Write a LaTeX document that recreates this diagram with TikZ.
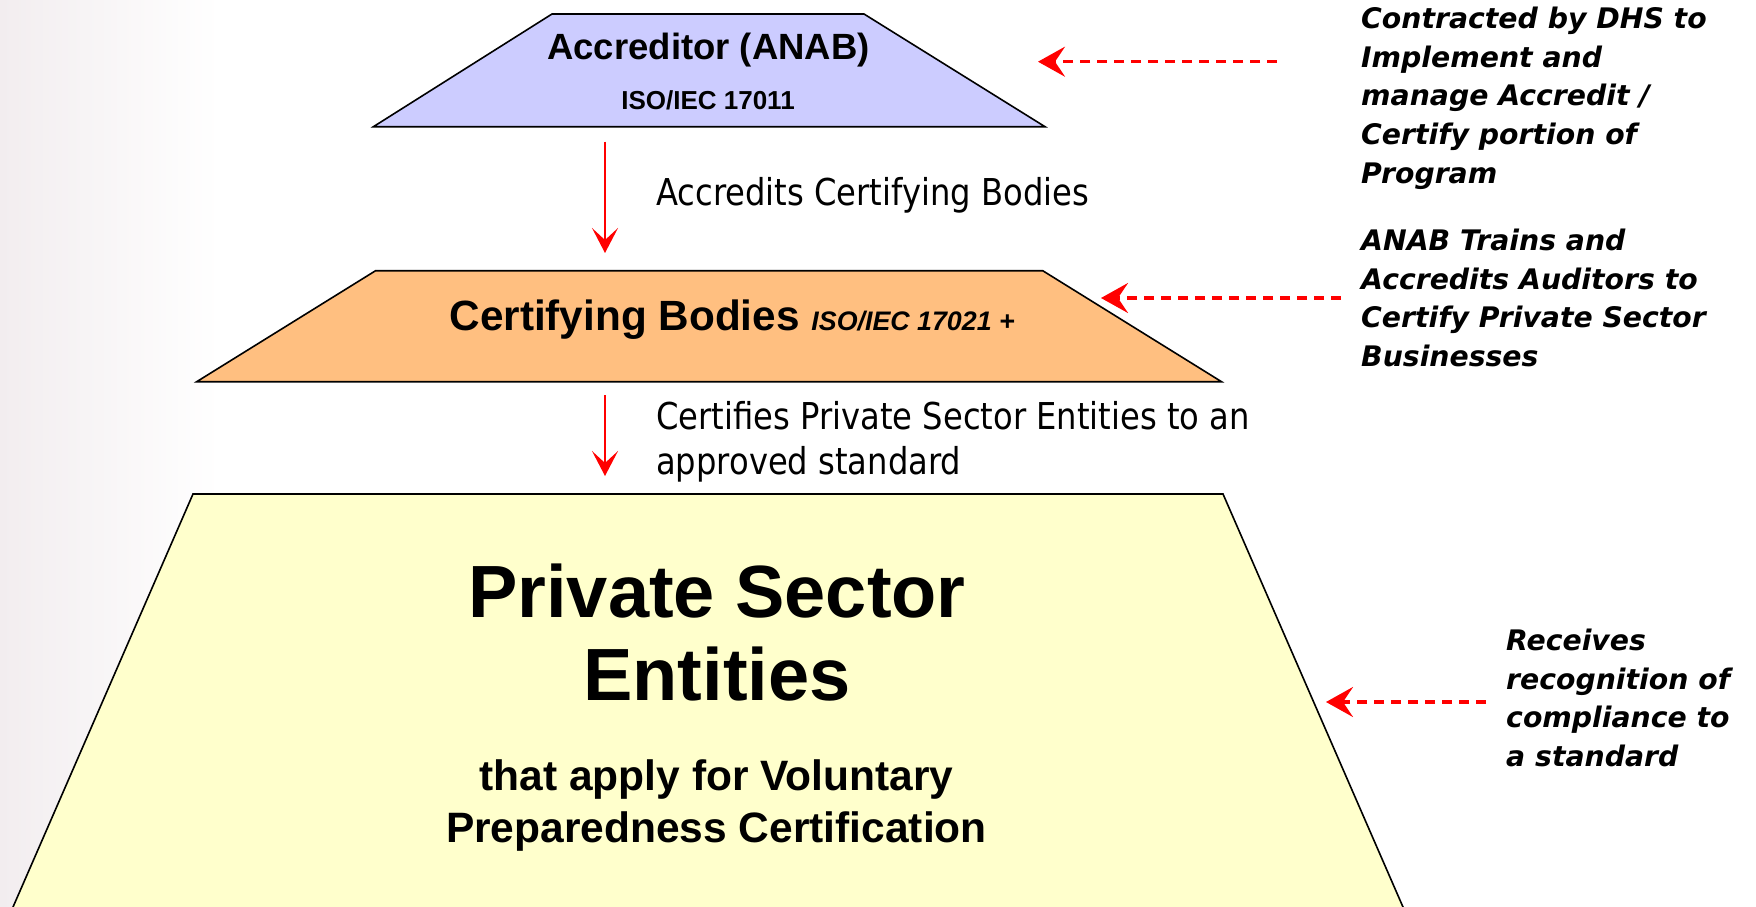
\documentclass[tikz,border=0pt]{standalone}
\usepackage{fontspec}
\setmainfont{Liberation Sans}
\newfontfamily\labfont[FakeStretch=0.87]{DejaVu Sans}
\newfontfamily\annfont{DejaVu Sans}
\usetikzlibrary{arrows.meta}
\definecolor{tierA}{RGB}{204,204,255}
\definecolor{tierB}{RGB}{255,191,128}
\definecolor{tierC}{RGB}{255,255,204}
\definecolor{wmark}{RGB}{242,237,239}
\begin{document}
\begin{tikzpicture}[x=1pt,y=-1pt,
  tier/.style={draw=black,line width=1.6pt,line join=miter},
  flow/.style={draw=red,line width=2pt,-{Stealth[length=25pt,width=26pt,inset=12pt]}},
  note/.style={draw=red,line width=3.2pt,dash pattern=on 10pt off 7pt,-{Stealth[length=27pt,width=30pt,inset=10pt]}},
  tt/.style={inner sep=0pt,outer sep=0pt},
  lbl/.style={inner sep=0pt,anchor=north west,align=left,font=\labfont\fontsize{37}{45}\selectfont},
  ann/.style={inner sep=0pt,anchor=north west,align=left,font=\annfont\bfseries\itshape\fontsize{28.3}{38.6}\selectfont}]
\useasboundingbox (0,0) rectangle (1756,907);
\clip (0,0) rectangle (1756,907);
\fill[white] (0,0) rectangle (1756,907);
\shade[left color=wmark,right color=white] (0,0) rectangle (220,907);
% tiers
\path[tier,fill=tierA] (373.4,126.7) -- (552,14) -- (864,14) -- (1045,126.7) -- cycle;
\path[tier,fill=tierB] (196.7,381.7) -- (375.6,270.7) -- (1042.7,270.7) -- (1221.5,381.7) -- cycle;
\path[tier,fill=tierC] (3,930) -- (193,494) -- (1223,494) -- (1413,930) -- cycle;
% tier texts
\node[tt,anchor=base,font=\bfseries\fontsize{36.5}{42}\selectfont] (acc) at (708.5,59.3) {Accreditor (ANAB)};
\node[tt,anchor=base,font=\bfseries\fontsize{26}{30}\selectfont] (accstd) at (708,110) {ISO/IEC 17011};
\node[tt,anchor=base west,font=\bfseries\fontsize{42.3}{48}\selectfont] (cb) at (449.5,330) {Certifying Bodies {\itshape\fontsize{26.8}{30}\selectfont ISO/IEC 17021 +}};
\node[tt,anchor=north,align=center,font=\bfseries\fontsize{74}{83.3}\selectfont] (pse) at (717,563.7) {Private Sector\\Entities};
\node[tt,anchor=north,align=center,font=\bfseries\fontsize{42.5}{52}\selectfont] (pse2) at (716.5,759.6) {that apply for Voluntary\\Preparedness Certification};
% flow labels
\node[lbl] (l1) at (656,177) {Accredits Certifying Bodies};
\node[lbl] (l2) at (656,401.5) {Certifies Private Sector Entities to an\\approved standard};
% annotations
\node[ann] (n1) at (1361,7) {Contracted by DHS to\\Implement and\\manage Accredit /\\Certify portion of\\Program};
\node[ann] (n2) at (1361,228.7) {ANAB Trains and\\Accredits Auditors to\\Certify Private Sector\\Businesses};
\node[ann] (n3) at (1506,628.7) {Receives\\recognition of\\compliance to\\a standard};
% connectors
\coordinate (t1b) at (605,126.7);
\coordinate (t2t) at (605,270.7);
\coordinate (t2b) at (605,381.7);
\coordinate (t3t) at (605,494);
\draw[flow,shorten <=15pt,shorten >=17.7pt] (t1b) -- (t2t);
\draw[flow,shorten <=13.3pt,shorten >=18pt] (t2b) -- (t3t);
\coordinate (a1s) at (1277,61.7);
\coordinate (a1e) at (1038,61.7);
\coordinate (a2s) at (1341,298);
\coordinate (a2e) at (1101,298);
\coordinate (a3s) at (1486,702);
\coordinate (a3e) at (1326,702);
\draw[note] (a1s) -- (a1e);
\draw[note] (a2s) -- (a2e);
\draw[note] (a3s) -- (a3e);
\end{tikzpicture}
\end{document}
